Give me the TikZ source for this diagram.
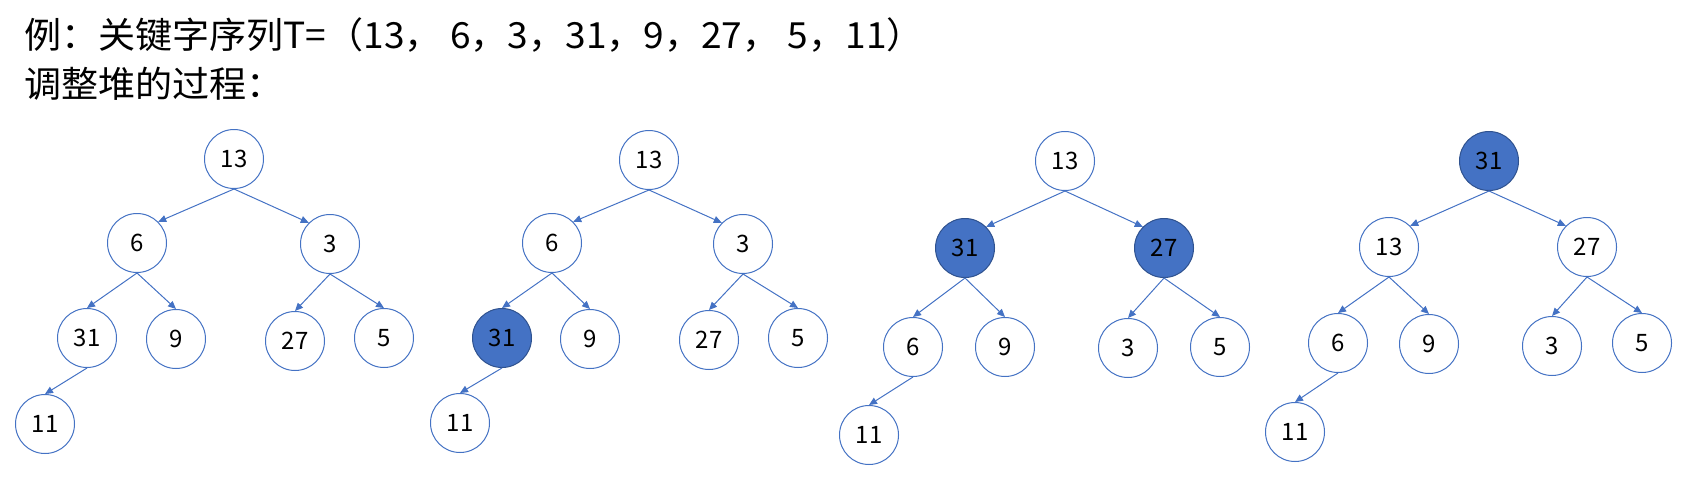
\documentclass[tikz,border=0pt]{standalone}
\usepackage{fontspec}
\setmainfont{Noto Sans CJK SC}
\usetikzlibrary{arrows.meta}
\definecolor{obl}{HTML}{4472C4}
\definecolor{obd}{HTML}{2F528F}
\tikzset{
  nd/.style={circle,draw=obl,line width=1pt,minimum size=59pt,inner sep=0pt,
    font=\fontsize{24}{24}\selectfont,fill=white},
  hot/.style={nd,fill=obl,draw=obd},
  ar/.style={draw=obl,line width=1pt,-{Triangle[length=8pt,width=7pt]}},
  ttl/.style={anchor=base west,inner sep=0pt,font=\fontsize{36}{40}\selectfont}
}
\begin{document}
\begin{tikzpicture}[x=1pt,y=-1pt]
\useasboundingbox (0,0) rectangle (1685,477);
\node[ttl] (t1) at (24,48) {\scalebox{1.03}[1]{例：关键字序列T=（13，\ 6，3，31，9，27，\ 5，11）}};
\node[ttl] (t2) at (24,97) {\scalebox{1.03}[1]{调整堆的过程：}};
% tree 1
\node[nd] (a0) at (234,159) {13};
\node[nd] (a1) at (137,243) {6};
\node[nd] (a2) at (330,244) {3};
\node[nd] (a3) at (87,338) {31};
\node[nd] (a4) at (176,339) {9};
\node[nd] (a5) at (295,341) {27};
\node[nd] (a6) at (384,338) {5};
\node[nd] (a7) at (45,424) {11};
% tree 2
\node[nd] (b0) at (649,160) {13};
\node[nd] (b1) at (552,243) {6};
\node[nd] (b2) at (743,244) {3};
\node[hot] (b3) at (502,338) {31};
\node[nd] (b4) at (590,339) {9};
\node[nd] (b5) at (709,340) {27};
\node[nd] (b6) at (798,338) {5};
\node[nd] (b7) at (460,423) {11};
% tree 3
\node[nd] (c0) at (1065,161) {13};
\node[hot] (c1) at (965,248) {31};
\node[hot] (c2) at (1164,248) {27};
\node[nd] (c3) at (913,347) {6};
\node[nd] (c4) at (1005,347) {9};
\node[nd] (c5) at (1128,348) {3};
\node[nd] (c6) at (1220,347) {5};
\node[nd] (c7) at (869,435) {11};
% tree 4
\node[hot] (d0) at (1489,161) {31};
\node[nd] (d1) at (1389,247) {13};
\node[nd] (d2) at (1587,247) {27};
\node[nd] (d3) at (1338,343) {6};
\node[nd] (d4) at (1429,344) {9};
\node[nd] (d5) at (1552,346) {3};
\node[nd] (d6) at (1642,343) {5};
\node[nd] (d7) at (1295,432) {11};
\foreach \t in {a,b,c,d}{
  \draw[ar] (\t0.south) -- (\t1.north east);
  \draw[ar] (\t0.south) -- (\t2.north west);
  \draw[ar] (\t1.south) -- (\t3.north);
  \draw[ar] (\t1.south) -- (\t4.north);
  \draw[ar] (\t2.south) -- (\t5.north);
  \draw[ar] (\t2.south) -- (\t6.north);
  \draw[ar] (\t3.south) -- (\t7.north);
}
\end{tikzpicture}
\end{document}
